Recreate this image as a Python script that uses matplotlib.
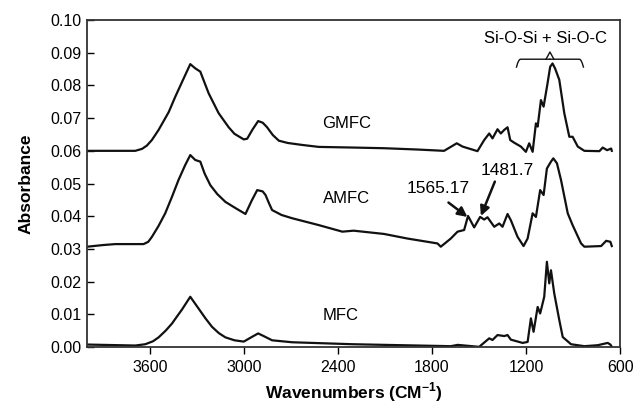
import matplotlib
matplotlib.use('Agg')
import matplotlib.pyplot as plt
import numpy as np

plt.rcParams['font.family'] = ['Liberation Sans', 'DejaVu Sans']
plt.rcParams['mathtext.fontset'] = 'custom'
plt.rcParams['mathtext.rm'] = 'Liberation Sans'
plt.rcParams['mathtext.bf'] = 'Liberation Sans:bold'

# Spectra (wavenumber, absorbance)
gmfc_wn = [4000, 3693, 3650, 3619, 3587, 3544, 3480, 3438, 3395, 3342, 3310, 3278, 3225,
           3161, 3097, 3060, 3001, 2979, 2945, 2909, 2880, 2852, 2815, 2777, 2720, 2628,
           2522, 2300, 2106, 1893, 1723, 1642, 1605, 1510, 1467, 1435, 1414, 1382, 1361,
           1339, 1318, 1301, 1276, 1233, 1201, 1180, 1158, 1137, 1126, 1105, 1088, 1063,
           1046, 1031, 1015, 988, 956, 924, 903, 870, 828, 732, 711, 683, 657, 653]
gmfc_abs = [0.0600, 0.0600, 0.0606, 0.0616, 0.0633, 0.0664, 0.0718, 0.0765, 0.0810, 0.0865,
            0.0852, 0.0842, 0.0776, 0.0715, 0.0672, 0.0652, 0.0635, 0.0637, 0.0665, 0.0691,
            0.0686, 0.0672, 0.0648, 0.0631, 0.0624, 0.0618, 0.0612, 0.0610, 0.0608, 0.0604,
            0.0600, 0.0623, 0.0613, 0.0599, 0.0633, 0.0653, 0.0638, 0.0666, 0.0653, 0.0664,
            0.0672, 0.0633, 0.0625, 0.0613, 0.0597, 0.0623, 0.0597, 0.0684, 0.0674, 0.0755,
            0.0735, 0.0806, 0.0857, 0.0867, 0.0852, 0.0817, 0.0715, 0.0643, 0.0643, 0.0613,
            0.0600, 0.0599, 0.0610, 0.0602, 0.0607, 0.0600]

amfc_wn = [4000, 3900, 3821, 3640, 3610, 3587, 3545, 3502, 3460, 3417, 3374, 3342, 3310,
           3278, 3250, 3214, 3170, 3118, 3050, 2990, 2950, 2915, 2880, 2862, 2840, 2820,
           2760, 2692, 2522, 2372, 2300, 2106, 1957, 1765, 1744, 1680, 1637, 1595, 1570,
           1531, 1493, 1467, 1446, 1403, 1371, 1350, 1318, 1297, 1254, 1216, 1190, 1158,
           1137, 1110, 1088, 1067, 1041, 1026, 1003, 977, 934, 903, 849, 828, 721, 689,
           662, 653]
amfc_abs = [0.0307, 0.0312, 0.0315, 0.0315, 0.0322, 0.0337, 0.0370, 0.0409, 0.0458, 0.0511,
            0.0557, 0.0587, 0.0572, 0.0567, 0.0530, 0.0495, 0.0468, 0.0444, 0.0424, 0.0407,
            0.0448, 0.0480, 0.0476, 0.0465, 0.0440, 0.0419, 0.0404, 0.0394, 0.0373, 0.0353,
            0.0356, 0.0346, 0.0332, 0.0317, 0.0307, 0.0332, 0.0353, 0.0358, 0.0401, 0.0366,
            0.0398, 0.0390, 0.0397, 0.0368, 0.0378, 0.0368, 0.0407, 0.0388, 0.0337, 0.0309,
            0.0332, 0.0409, 0.0398, 0.0480, 0.0465, 0.0546, 0.0567, 0.0577, 0.0562, 0.0511,
            0.0409, 0.0373, 0.0317, 0.0307, 0.0309, 0.0325, 0.0322, 0.0309]

mfc_wn = [4000, 3693, 3629, 3580, 3544, 3500, 3459, 3425, 3395, 3342, 3289, 3245, 3203,
          3160, 3118, 3060, 3001, 2950, 2909, 2870, 2820, 2692, 2308, 1680, 1636, 1499,
          1435, 1414, 1382, 1339, 1318, 1297, 1222, 1190, 1169, 1152, 1126, 1110, 1084,
          1067, 1052, 1041, 1020, 988, 966, 913, 828, 743, 679, 662, 653]
mfc_abs = [0.0008, 0.0005, 0.0009, 0.0018, 0.0030, 0.0050, 0.0072, 0.0095, 0.0115, 0.0154,
           0.0118, 0.0088, 0.0062, 0.0043, 0.0030, 0.0021, 0.0017, 0.0031, 0.0042, 0.0033,
           0.0021, 0.0015, 0.0009, 0.0003, 0.0007, 0.0001, 0.0027, 0.0022, 0.0037, 0.0034,
           0.0037, 0.0023, 0.0013, 0.0016, 0.0088, 0.0047, 0.0123, 0.0103, 0.0154, 0.0261,
           0.0195, 0.0235, 0.0164, 0.0083, 0.0031, 0.0009, 0.0003, 0.0006, 0.0013, 0.0008,
           0.0001]

x_ticks = [3600, 3000, 2400, 1800, 1200, 600]
y_ticks = [0.00, 0.01, 0.02, 0.03, 0.04, 0.05, 0.06, 0.07, 0.08, 0.09, 0.10]

fig = plt.figure(figsize=(6.36, 4.07), dpi=100)
ax = fig.add_axes([0.137, 0.147, 0.838, 0.804])

for wn, ab in [(gmfc_wn, gmfc_abs), (amfc_wn, amfc_abs), (mfc_wn, mfc_abs)]:
    ax.plot(wn, ab, color='#111111', lw=1.6, solid_joinstyle='round')

ax.set_xlim(4000, 600)
ax.set_ylim(0, 0.10)
ax.set_xticks(x_ticks)
ax.set_yticks(y_ticks)
ax.set_yticklabels([f'{v:.2f}' for v in y_ticks])
ax.tick_params(axis='y', direction='in', length=5, width=1, labelsize=11.5, pad=4)
ax.tick_params(axis='x', direction='out', length=5, width=1, labelsize=11.5, pad=4)
for s in ax.spines.values():
    s.set_linewidth(1.3)
    s.set_color('#333333')

ax.set_ylabel('Absorbance', fontsize=12.5, fontweight='bold', labelpad=12)
ax.set_xlabel(r'Wavenumbers (CM$^{\mathbf{-1}}$)', fontsize=12.5, fontweight='bold', labelpad=4)

# sample labels
ax.text(2498, 0.0685, 'GMFC', fontsize=12, va='center', ha='left')
ax.text(2498, 0.0453, 'AMFC', fontsize=12, va='center', ha='left')
ax.text(2498, 0.0098, 'MFC', fontsize=12, va='center', ha='left')

# peak arrows (drawn apart from their labels)
arrow = dict(arrowstyle='-|>', color='#111111', lw=1.8, mutation_scale=14,
             shrinkA=0, shrinkB=0)
ax.text(1760, 0.0485, '1565.17', fontsize=12.5, ha='center', va='center')
ax.annotate('', xy=(1574, 0.0398), xytext=(1695, 0.0442), arrowprops=arrow)
ax.text(1318, 0.0541, '1481.7', fontsize=12.5, ha='center', va='center')
ax.annotate('', xy=(1488, 0.0401), xytext=(1399, 0.0506), arrowprops=arrow)

# curly bracket over the Si-O region
br_left, br_right, br_y = 1261, 834, 0.0880
br_mid = (br_left + br_right) / 2
t = np.linspace(0, 1, 30)
drop = np.where(t < 0.12, 0.0024 * (1 - t / 0.12) ** 2, 0)
ax.plot(br_left - (br_left - br_mid) * t, br_y - drop, color='#111111', lw=1.0)
ax.plot(br_right + (br_mid - br_right) * t, br_y - drop, color='#111111', lw=1.0)
ax.plot([br_mid - 25, br_mid, br_mid + 25], [br_y, br_y + 0.0022, br_y], color='#111111', lw=1.0)
ax.text(1073, 0.0944, 'Si-O-Si + Si-O-C', fontsize=12, ha='center', va='center')

fig.savefig('out.png', dpi=100)
